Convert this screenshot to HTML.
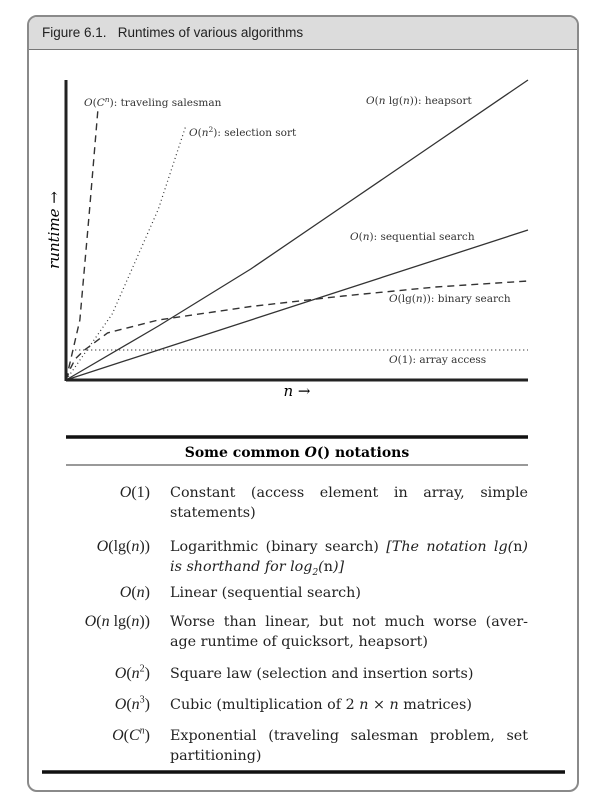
<!DOCTYPE html>
<html><head><meta charset="utf-8">
<style>
body{margin:0;width:598px;height:800px;background:#fff;position:relative;overflow:hidden;font-family:"DejaVu Serif","Liberation Serif",serif;color:#222}
#frame{position:absolute;left:27px;top:15px;width:548px;height:773px;border:2px solid #8a8a8a;border-radius:10px;overflow:hidden}
#hdr{position:absolute;left:0;top:0;width:100%;height:32px;background:#dcdcdc;border-bottom:1.5px solid #777;font-family:"Liberation Sans",sans-serif;font-size:13.5px;line-height:32px;color:#222}
#hdr span{position:absolute;left:13px}
.row{position:absolute;left:0;width:598px;font-size:14.3px;line-height:20px}
.lab{position:absolute;right:448px;text-align:right;white-space:nowrap;font-family:"Liberation Serif",serif;font-size:16px}
.txt{position:absolute;left:170px;width:358px}
.j{text-align:justify;text-align-last:justify;white-space:nowrap}
i{font-style:italic}
sup,sub{line-height:0}
</style></head><body>
<div id="frame">
<div id="hdr"><span>Figure 6.1.&nbsp;&nbsp;&nbsp;Runtimes of various algorithms</span></div>
</div>
<svg id="chart" width="598" height="800" style="position:absolute;left:0;top:0;font-family:'DejaVu Serif',serif">
<g id="marks"></g>
<line x1="66" y1="380" x2="528" y2="380" stroke="#222" stroke-width="3"/>
<line x1="66" y1="80" x2="66" y2="381" stroke="#222" stroke-width="3"/>
<text x="297" y="396" font-size="15" text-anchor="middle" font-style="italic">n →</text>
<text transform="translate(59,230) rotate(-90)" font-size="15" text-anchor="middle" font-style="italic">runtime →</text>
<g font-size="10.5" fill="#333">
<text x="84" y="106"><tspan font-style="italic">O</tspan>(<tspan font-style="italic">C</tspan><tspan font-size="7.5" dy="-4" font-style="italic">n</tspan><tspan dy="4">): traveling salesman</tspan></text>
<text x="189" y="136"><tspan font-style="italic">O</tspan>(<tspan font-style="italic">n</tspan><tspan font-size="7.5" dy="-4">2</tspan><tspan dy="4">): selection sort</tspan></text>
<text x="366" y="104"><tspan font-style="italic">O</tspan>(<tspan font-style="italic">n</tspan> lg(<tspan font-style="italic">n</tspan>)): heapsort</text>
<text x="350" y="240"><tspan font-style="italic">O</tspan>(<tspan font-style="italic">n</tspan>): sequential search</text>
<text x="389" y="302"><tspan font-style="italic">O</tspan>(lg(<tspan font-style="italic">n</tspan>)): binary search</text>
<text x="389" y="363"><tspan font-style="italic">O</tspan>(1): array access</text>
</g>
<line x1="66" y1="437" x2="528" y2="437" stroke="#111" stroke-width="3.5"/>
<line x1="66" y1="465" x2="528" y2="465" stroke="#333" stroke-width="1"/>
<line x1="42" y1="772" x2="565" y2="772" stroke="#111" stroke-width="3.5"/>
<text x="297" y="457" font-size="14" font-weight="bold" text-anchor="middle">Some common <tspan font-style="italic">O</tspan>() notations</text>
</svg>
<div class="row" style="top:483px"><span class="lab"><i>O</i>(1)</span><div class="txt"><div class="j">Constant (access element in array, simple</div><div>statements)</div></div></div>
<div class="row" style="top:537px"><span class="lab"><i>O</i>(lg(<i>n</i>))</span><div class="txt"><div class="j">Logarithmic (binary search) <i>[The notation lg(</i>n<i>)</i></div><div><i>is shorthand for log<sub style="font-size:9px">2</sub>(</i>n<i>)]</i></div></div></div>
<div class="row" style="top:583px"><span class="lab"><i>O</i>(<i>n</i>)</span><div class="txt">Linear (sequential search)</div></div>
<div class="row" style="top:612px"><span class="lab"><i>O</i>(<i>n</i> lg(<i>n</i>))</span><div class="txt"><div class="j">Worse than linear, but not much worse (aver-</div><div>age runtime of quicksort, heapsort)</div></div></div>
<div class="row" style="top:664px"><span class="lab"><i>O</i>(<i>n</i><sup style="font-size:10px">2</sup>)</span><div class="txt">Square law (selection and insertion sorts)</div></div>
<div class="row" style="top:695px"><span class="lab"><i>O</i>(<i>n</i><sup style="font-size:10px">3</sup>)</span><div class="txt">Cubic (multiplication of 2 <i>n</i> × <i>n</i> matrices)</div></div>
<div class="row" style="top:726px"><span class="lab"><i>O</i>(<i>C</i><sup style="font-size:10px"><i>n</i></sup>)</span><div class="txt"><div class="j">Exponential (traveling salesman problem, set</div><div>partitioning)</div></div></div>
<script>
const seriesNames=['nlogn','linear','log','constant','exponential','quadratic'];
const nlognX=[0,20,40,60,80,100];
const nlognY=[0,18,37,58,79,100];
const linearX=[0,100];
const linearY=[0,50];
const logX=[0,1,2,4,9,20,40,60,80,100];
const logY=[0,4,7,10,15.7,20,24.5,28,31,33];
const constX=[2,100];
const constY=[10,10];
const expX=[0,3,5,6.9];
const expY=[0,20,55,90];
const quadX=[0,10,20,26];
const quadY=[0,22,57,85];
function sx(v){return 66+v*4.62}
function sy(v){return 380-v*3}
const styles={nlogn:['',1.3],linear:['',1.3],log:['7,5',1.4],constant:['1,3',1.2],exponential:['7,5',1.4],quadratic:['1,3',1.2]};
const data={nlogn:[nlognX,nlognY],linear:[linearX,linearY],log:[logX,logY],constant:[constX,constY],exponential:[expX,expY],quadratic:[quadX,quadY]};
const g=document.getElementById('marks');
seriesNames.forEach(n=>{
  const [xs,ys]=data[n];
  const p=document.createElementNS('http://www.w3.org/2000/svg','polyline');
  p.setAttribute('points',xs.map((x,i)=>sx(x)+','+sy(ys[i])).join(' '));
  p.setAttribute('fill','none');p.setAttribute('stroke','#333');
  p.setAttribute('stroke-width',styles[n][1]);
  p.setAttribute('stroke-linejoin','round');
  if(styles[n][0])p.setAttribute('stroke-dasharray',styles[n][0]);
  
  
  g.appendChild(p);
});
</script>
</body></html>
